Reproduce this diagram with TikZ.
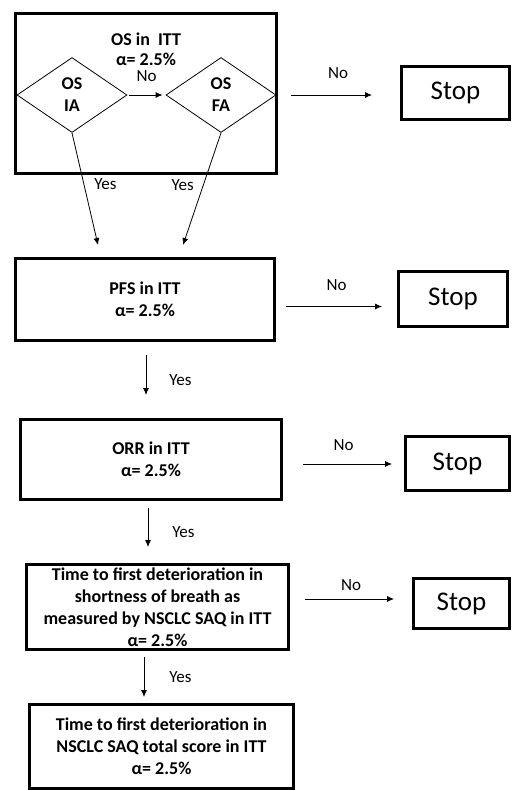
\documentclass[tikz,border=0pt]{standalone}
\usepackage{fontspec}
\setmainfont{Carlito}
\usetikzlibrary{shapes.geometric,arrows.meta}
\begin{document}
\begin{tikzpicture}[x=1pt,y=-1pt,>={Latex[length=7pt,width=6pt]},
  box/.style={draw,line width=2.8pt,align=center,inner sep=0pt,font=\fontsize{18}{22}\selectfont\bfseries},
  stopbox/.style={draw,line width=2.8pt,inner sep=0pt,font=\fontsize{27}{32}\selectfont},
  dec/.style={draw,diamond,line width=0.8pt,align=center,inner sep=0pt,minimum width=110pt,minimum height=75pt,font=\fontsize{18}{22}\selectfont\bfseries},
  lbl/.style={inner sep=1pt,font=\fontsize{17}{20}\selectfont},
  flow/.style={->,line width=0.8pt}]
  \useasboundingbox (0,0) rectangle (512,790);
  \node[box,minimum width=261.2pt,minimum height=160.2pt] (osbox) at (146,93.5) {};
  \node[align=center,inner sep=0pt,font=\fontsize{18}{20}\selectfont\bfseries] (ostitle) at (146,49) {OS in~ ITT\\α= 2.5\%};
  \node[dec] (osia) at (72,95) {OS\\IA};
  \node[dec] (osfa) at (221,95) {OS\\FA};
  \node[stopbox,minimum width=108.2pt,minimum height=53.2pt] (stopa) at (455.5,93) {Stop};
  \node[box,minimum width=259.2pt,minimum height=82.2pt] (pfs) at (145,299.5) {PFS in ITT\\α= 2.5\%};
  \node[stopbox,minimum width=109.2pt,minimum height=55.2pt] (stopb) at (453,299) {Stop};
  \node[box,minimum width=261.2pt,minimum height=80.2pt] (orr) at (151,459.5) {ORR in ITT\\α= 2.5\%};
  \node[stopbox,minimum width=104.2pt,minimum height=54.2pt] (stopc) at (457.5,463.5) {Stop};
  \node[box,minimum width=262.2pt,minimum height=85.2pt] (sob) at (157.5,607) {Time to first deterioration in\\shortness of breath as\\measured by NSCLC SAQ in ITT\\α= 2.5\%};
  \node[stopbox,minimum width=96.2pt,minimum height=50.2pt] (stopd) at (461.5,603.5) {Stop};
  \node[box,minimum width=264.2pt,minimum height=84.2pt] (tot) at (161.5,746.5) {Time to first deterioration in\\NSCLC SAQ total score in ITT\\α= 2.5\%};
  \draw[flow,shorten <=2pt,shorten >=3pt] (osia) -- node[lbl,above=12pt] {No} (osfa);
  \draw[flow,shorten <=15pt,shorten >=28pt] (osfa.east) -- node[lbl,above=15pt] {No} (osfa.east -| stopa.west);
  \draw[flow] (osia.south) -- node[lbl,pos=.46,right=9pt] {Yes} ([xshift=-47pt,yshift=12pt]pfs.north);
  \draw[flow] (osfa.south) -- node[lbl,pos=.47,left=8pt] {Yes} ([xshift=38pt,yshift=12pt]pfs.north);
  \draw[flow,shorten <=10pt,shorten >=15pt] ([yshift=-7pt]pfs.east) -- node[lbl,above=14pt] {No} ([yshift=-7pt]pfs.east -| stopb.west);
  \draw[flow,shorten <=13pt,shorten >=23pt] ([xshift=1pt]pfs.south) -- node[lbl,right=22pt] {Yes} ([xshift=1pt]pfs.south |- orr.north);
  \draw[flow,shorten <=20pt,shorten >=12pt] ([yshift=-4.5pt]orr.east) -- node[lbl,above=12pt] {No} ([yshift=-4.5pt]orr.east -| stopc.west);
  \draw[flow,shorten <=7pt,shorten >=16pt] ([xshift=-3pt]orr.south) -- node[lbl,right=23pt] {Yes} ([xshift=-3pt]orr.south |- sob.north);
  \draw[flow,shorten <=15pt,shorten >=18pt] ([yshift=8pt]sob.east) -- node[lbl,above=7pt] {No} ([yshift=8pt]sob.east -| stopd.west);
  \draw[flow,shorten <=6pt,shorten >=6pt] ([xshift=-13.5pt]sob.south) -- node[lbl,right=24pt] {Yes} ([xshift=-13.5pt]sob.south |- tot.north);
\end{tikzpicture}
\end{document}
